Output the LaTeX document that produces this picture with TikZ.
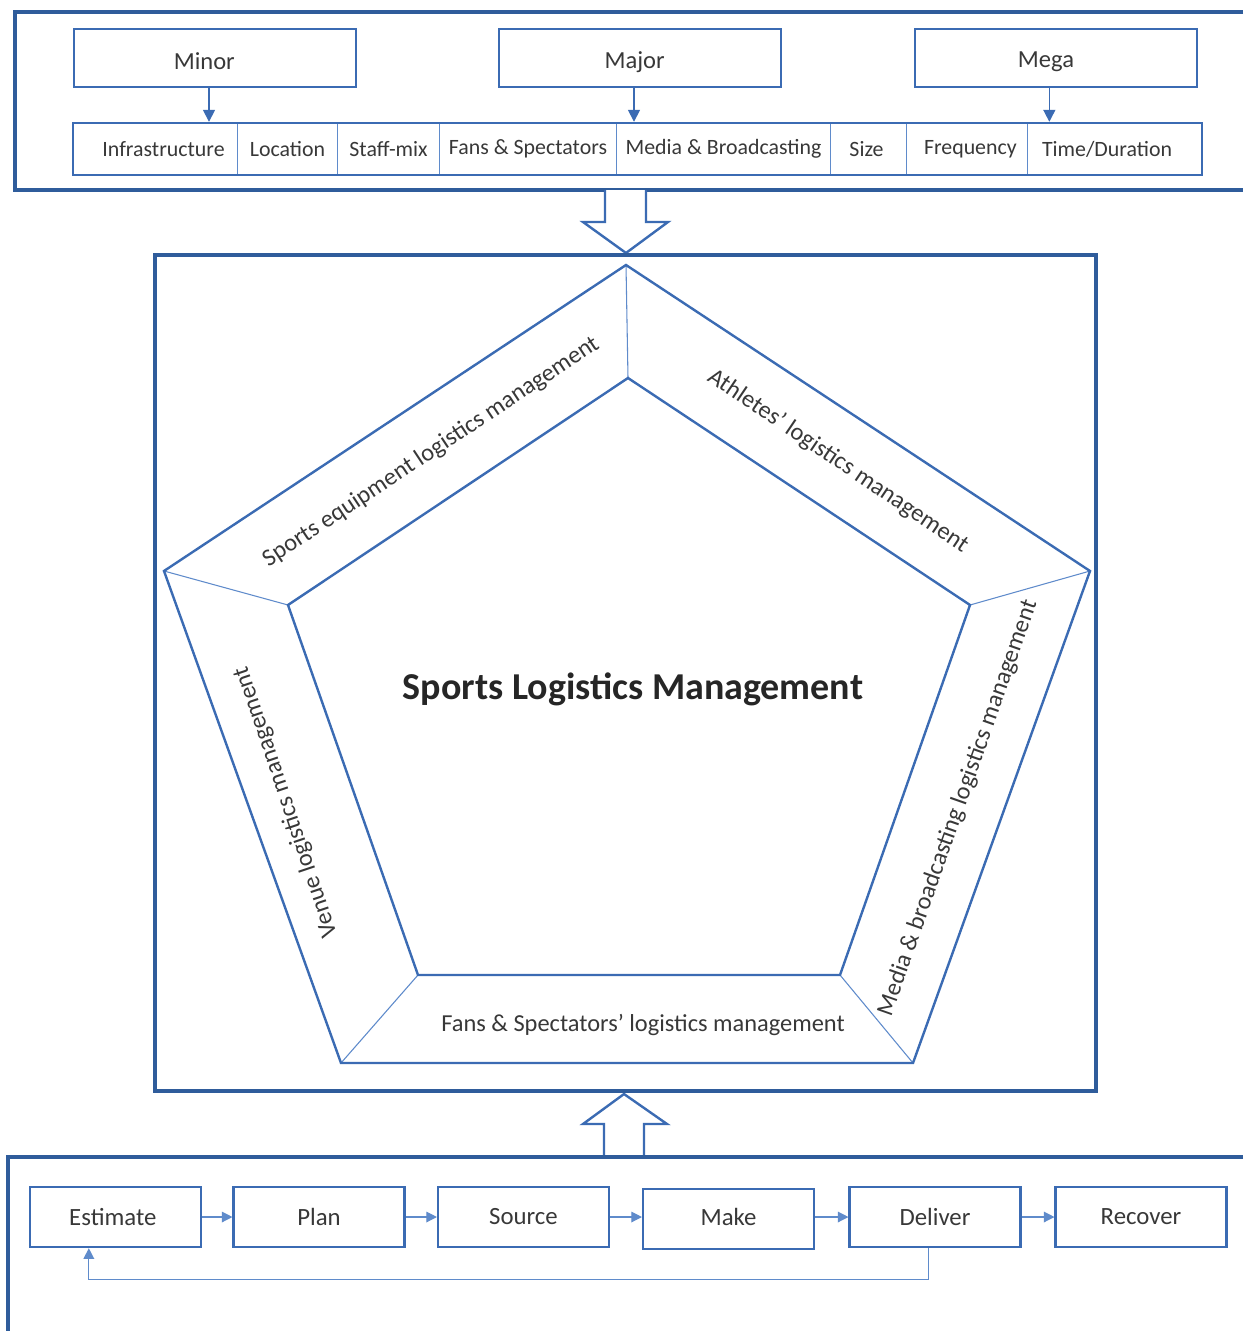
\documentclass[tikz,border=0pt]{standalone}
\usepackage{fontspec}
\setmainfont{Carlito}
\usetikzlibrary{arrows.meta,calc}
\definecolor{frameblue}{HTML}{2F5C9B}
\definecolor{boxblue}{HTML}{3B6BB3}
\definecolor{thinblue}{HTML}{5F8BCB}
\definecolor{txt}{HTML}{383838}
\begin{document}
\begin{tikzpicture}[x=0.75pt,y=-0.75pt,
  every node/.style={text=txt},
  frame/.style={draw=frameblue, line width=3pt},
  topbox/.style={draw=boxblue, line width=1.8pt, minimum width=211.5pt, minimum height=43.5pt, inner sep=0pt, font=\fontsize{18.4}{21}\selectfont},
  cell/.style={draw=thinblue, line width=0.8pt, minimum height=39pt, inner sep=0pt, anchor=west, font=\fontsize{16.4}{19}\selectfont},
  procbox/.style={draw=boxblue, line width=1.8pt, minimum width=128pt, minimum height=45pt, inner sep=0pt, font=\fontsize{18.6}{21}\selectfont},
  arr/.style={draw=boxblue, line width=1.2pt, -{Triangle[length=9pt,width=9pt]}},
  thinarr/.style={draw=thinblue, line width=0.9pt, -{Triangle[length=8pt,width=8pt]}},
  pentline/.style={draw=boxblue, line width=1.8pt, line join=miter},
  spoke/.style={draw=thinblue, line width=0.8pt},
  fat/.style={draw=boxblue, line width=1.8pt, fill=white, line join=miter},
  plabel/.style={font=\fontsize{18.3}{21}\selectfont, inner sep=0pt}
]
\useasboundingbox (0,0) rectangle (1243,1331);

% ---------- top frame ----------
\draw[frame] (1243,12) -- (15,12) -- (15,190) -- (1243,190);

\node[topbox] (minor) at (215,58) {\raisebox{-9pt}[0pt][0pt]{Minor}\hspace*{16pt}};
\node[topbox] (major) at (640,58) {\raisebox{-8pt}[0pt][0pt]{Major}\hspace*{8pt}};
\node[topbox] (mega)  at (1056,58) {\raisebox{-7.5pt}[0pt][0pt]{Mega}\hspace*{15pt}};

\node[cell, minimum width={164*0.75pt}] (c1) at (73,149) {\hspace*{12pt}Infrastructure};
\node[cell, minimum width={100*0.75pt}] (c2) at (237,149) {Location};
\node[cell, minimum width={102*0.75pt}] (c3) at (337,149) {Staff-mix};
\node[cell, minimum width={177*0.75pt}] (c4) at (439,149) {Fans \& Spectators};
\node[cell, minimum width={214*0.75pt}] (c5) at (616,149) {Media \& Broadcasting};
\node[cell, minimum width={76*0.75pt}] (c6) at (830,149) {Size\hspace*{3pt}};
\node[cell, minimum width={121*0.75pt}] (c7) at (906,149) {\hspace*{5pt}Frequency};
\node[cell, minimum width={175*0.75pt}] (c8) at (1027,149) {Time/Duration\hspace*{12pt}};
\node[draw=boxblue, line width=1.8pt, minimum width={1129*0.75pt}, minimum height=39pt, inner sep=0pt] (row) at (637.5,149) {};

\path ([xshift=-4.5pt]minor.south) coordinate (m1);
\path ([xshift=-4.5pt]major.south) coordinate (m2);
\path ([xshift=-5pt]mega.south) coordinate (m3);
\draw[arr] (m1) -- (m1 |- row.north);
\draw[arr] (m2) -- (m2 |- row.north);
\draw[arr] (m3) -- (m3 |- row.north);

% ---------- fat arrows ----------
\draw[fat] (605,190) -- (605,222) -- (583,222) -- (626,253) -- (668,222) -- (646,222) -- (646,190);
\draw[fat] (604,1155) -- (604,1124) -- (583,1124) -- (624,1094) -- (667,1124) -- (644,1124) -- (644,1155);

% ---------- middle frame ----------
\node[frame, minimum width={941*0.75pt}, minimum height={836*0.75pt}, inner sep=0pt] (mid) at (625.5,673) {};

% pentagon
\coordinate (o1) at (626,265);
\coordinate (o2) at (1090,571);
\coordinate (o3) at (913,1063);
\coordinate (o4) at (341,1063);
\coordinate (o5) at (164,571);
\coordinate (i1) at (628,378);
\coordinate (i2) at (970,605);
\coordinate (i3) at (840,975);
\coordinate (i4) at (418,975);
\coordinate (i5) at (288,605);
\draw[spoke] (o1) -- (i1) (o2) -- (i2) (o3) -- (i3) (o4) -- (i4) (o5) -- (i5);
\draw[pentline] (o1) -- (o2) -- (o3) -- (o4) -- (o5) -- cycle;
\draw[pentline] (i1) -- (i2) -- (i3) -- (i4) -- (i5) -- cycle;

\node[plabel, rotate=33.5] (l1) at (431,452) {Sports equipment logistics management};
\node[plabel, rotate=-34] (l2) at (838,461) {Athletes’ logistics management};
\node[plabel, rotate=70.6] (l3) at (958,808) {Media \& broadcasting logistics management};
\node[plabel] (l4) at (643,1025) {Fans \& Spectators’ logistics management};
\node[plabel, rotate=108.6] (l5) at (286,802) {Venue logistics management};

\node[font=\fontsize{28.5}{33}\selectfont\bfseries, text=black!85] (title) at (633,689) {Sports Logistics Management};

% ---------- bottom frame ----------
\draw[frame] (1243,1157) -- (8,1157) -- (8,1331);

\node[procbox] (est) at (115.5,1217) {Estimate\hspace*{4pt}};
\node[procbox] (plan) at (319,1217) {Plan};
\node[procbox] (src) at (523.5,1217) {Source};
\node[procbox] (make) at (728.5,1219) {\raisebox{3pt}{Make}};
\node[procbox] (del) at (935,1217) {Deliver};
\node[procbox] (rec) at (1141,1217) {Recover};

\draw[thinarr] (est) -- (plan);
\draw[thinarr] (plan) -- (src);
\draw[thinarr] (src) -- (make.west |- src.east);
\draw[thinarr] (make.east |- del.west) -- (del);
\draw[thinarr] (del) -- (rec);

\path ([xshift=-5pt]del.south) coordinate (d1);
\path ([xshift=-20pt]est.south) coordinate (e1);
\draw[thinarr] (d1) -- ++(0,31) -| (e1);
\end{tikzpicture}
\end{document}
